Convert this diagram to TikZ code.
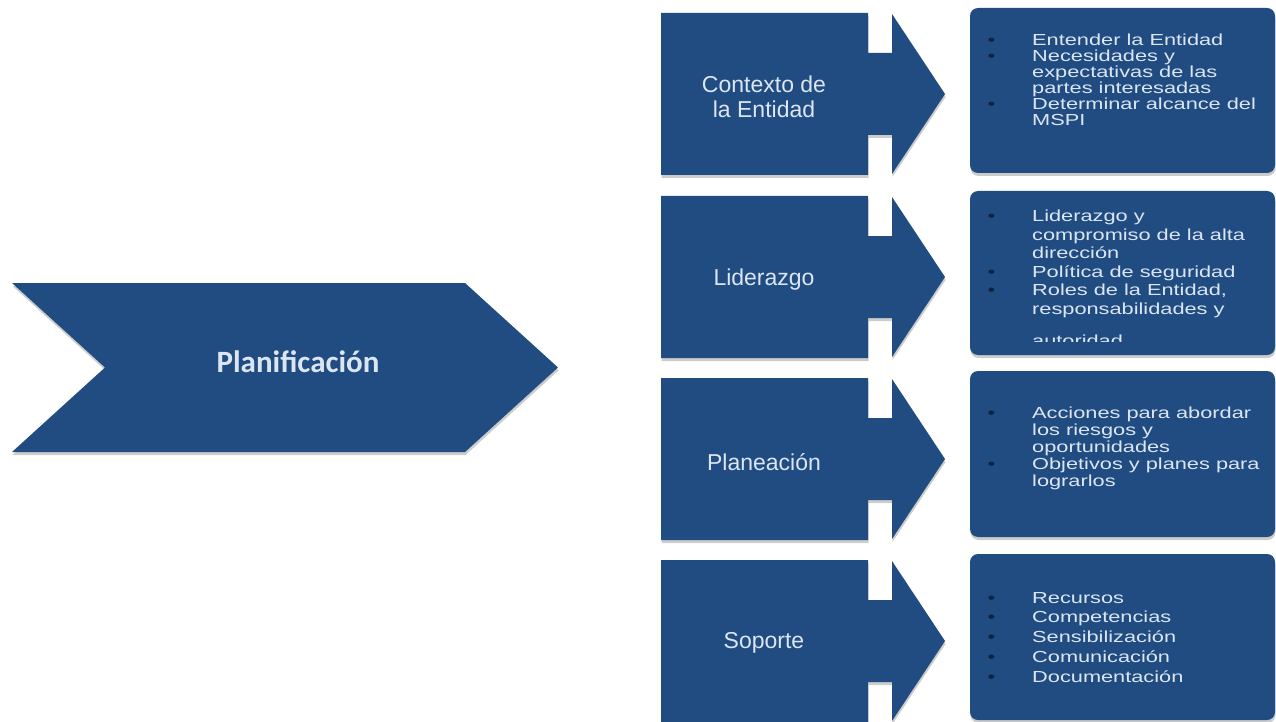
\documentclass[tikz,border=0pt]{standalone}
\usepackage{fontspec}
\setmainfont{Liberation Sans}
\newfontfamily\boxfont[FakeStretch=1.36]{Liberation Sans}
\newfontfamily\titlefont{Carlito}
\usetikzlibrary{shadows}
\definecolor{navy}{RGB}{32,76,130}
\definecolor{lbl}{RGB}{220,230,243}
\definecolor{bulc}{RGB}{14,34,66}
\newcommand\bl{\llap{\textcolor{bulc}{\textbullet}\hspace{37pt}}}
\begin{document}
\begin{tikzpicture}[x=1pt,y=-1pt,
  bluefill/.style={fill=navy, drop shadow={shadow xshift=0.5pt, shadow yshift=-3pt, opacity=0.2, fill=black}},
  steplabel/.style={text=lbl, align=center, font=\fontsize{23}{25}\selectfont, inner sep=0pt},
  boxtext/.style={text=lbl, align=left, anchor=north west, inner sep=0pt},
  title/.style={text=lbl, font=\titlefont\bfseries\fontsize{31}{34}\selectfont, inner sep=0pt}]
\useasboundingbox[fill=white] (0,0) rectangle (1276,722);

% big chevron
\fill[bluefill] (12,283) -- (465,283) -- (558,367.5) -- (465,452) -- (12,452) -- (105,367.5) -- cycle;
\node[title] (plan) at (298,362) {Planificación};

% step arrows
\foreach \T in {13,196,378,560}{
  \fill[bluefill] (661,\T) -- (868,\T) -- (868,\T+40) -- (892,\T+40) -- (892,\T+1)
    -- (945,\T+81) -- (892,\T+161) -- (892,\T+122) -- (868,\T+122) -- (868,\T+162)
    -- (661,\T+162) -- cycle;
}
\node[steplabel] (s1) at (764,97) {Contexto de\\la Entidad};
\node[steplabel] (s2) at (764,280) {Liderazgo};
\node[steplabel] (s3) at (764,462) {Planeación};
\node[steplabel] (s4) at (764,643) {Soporte};

% text boxes
\fill[bluefill, rounded corners=8pt] (970,8) rectangle (1275,173);
\fill[bluefill, rounded corners=8pt] (970,191) rectangle (1275,355);
\fill[bluefill, rounded corners=8pt] (970,371) rectangle (1275,537);
\fill[bluefill, rounded corners=8pt] (970,554) rectangle (1275,720);

\node[boxtext, font=\boxfont\fontsize{16}{16}\selectfont] (t1) at (1032,34)
  {\bl Entender la Entidad\\\bl Necesidades y\\expectativas de las\\partes interesadas\\\bl Determinar alcance del\\MSPI};
\begin{scope}
\clip (970,191) rectangle (1275,341);
\node[boxtext, font=\boxfont\fontsize{16}{18.5}\selectfont] (t2) at (1032,210)
  {\bl Liderazgo y\\compromiso de la alta\\dirección\\\bl Política de seguridad\\\bl Roles de la Entidad,\\responsabilidades y\\[14pt]autoridad};
\end{scope}
\node[boxtext, font=\boxfont\fontsize{16}{17}\selectfont] (t3) at (1032,407)
  {\bl Acciones para abordar\\los riesgos y\\oportunidades\\\bl Objetivos y planes para\\lograrlos};
\node[boxtext, font=\boxfont\fontsize{16}{19.7}\selectfont] (t4) at (1032,592)
  {\bl Recursos\\\bl Competencias\\\bl Sensibilización\\\bl Comunicación\\\bl Documentación};
\end{tikzpicture}
\end{document}
